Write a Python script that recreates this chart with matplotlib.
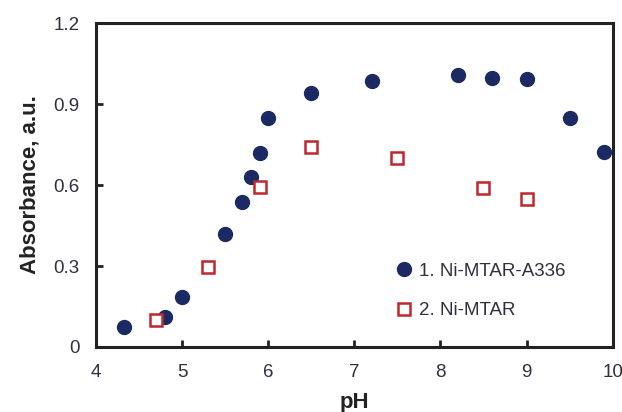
import matplotlib.pyplot as plt

# 1. Ni-MTAR-A336
ph_1 = [4.33, 4.8, 5.0, 5.5, 5.7, 5.8, 5.9, 6.0, 6.5, 7.2, 8.2, 8.6, 9.0, 9.5, 9.9]
abs_1 = [0.073, 0.112, 0.184, 0.418, 0.538, 0.631, 0.718, 0.849, 0.942, 0.985, 1.006, 0.995, 0.991, 0.849, 0.723]

# 2. Ni-MTAR
ph_2 = [4.7, 5.3, 5.9, 6.5, 7.5, 8.5, 9.0]
abs_2 = [0.10, 0.298, 0.592, 0.742, 0.701, 0.588, 0.548]

labels = ["1. Ni-MTAR-A336", "2. Ni-MTAR"]
xticks = [4, 5, 6, 7, 8, 9, 10]
yticks = [0, 0.3, 0.6, 0.9, 1.2]
ytick_labels = ["0", "0.3", "0.6", "0.9", "1.2"]

plt.rcParams['font.family'] = ['Liberation Sans', 'DejaVu Sans']

fig = plt.figure(figsize=(6.22, 4.12), dpi=100)
ax = fig.add_axes([0.1543, 0.1578, 0.8307, 0.7862])

navy = "#1c2a63"
red = "#c0272d"
txt = "#2e3040"

ax.plot(ph_1, abs_1, "o", color=navy, markersize=10, label=labels[0], clip_on=False, zorder=3)
ax.plot(ph_2, abs_2, "s", markerfacecolor="white", markeredgecolor=red, markeredgewidth=1.8,
        markersize=9, label=labels[1], clip_on=False, zorder=3)

ax.set_xlim(4, 10)
ax.set_ylim(0, 1.2)
ax.set_xticks(xticks)
ax.set_yticks(yticks)
ax.set_yticklabels(ytick_labels)

for s in ax.spines.values():
    s.set_linewidth(2.2)
    s.set_color("#222222")

ax.tick_params(direction="in", length=5, width=2, color="#222222",
               labelsize=13.5, labelcolor=txt)
ax.tick_params(axis="x", pad=12)
ax.tick_params(axis="y", pad=12)

ax.set_xlabel("pH", fontsize=16, fontweight="bold", color="#222222", labelpad=8)
ax.set_ylabel("Absorbance, a.u.", fontsize=16, fontweight="bold", color="#222222", labelpad=9)

leg = ax.legend(frameon=False, loc="center left", bbox_to_anchor=(0.5817, 0.173),
                fontsize=13.5, handletextpad=0.4, labelspacing=1.2, handlelength=0.8,
                borderaxespad=0, borderpad=0)
for t in leg.get_texts():
    t.set_color(txt)

fig.savefig("out.png", dpi=100)
